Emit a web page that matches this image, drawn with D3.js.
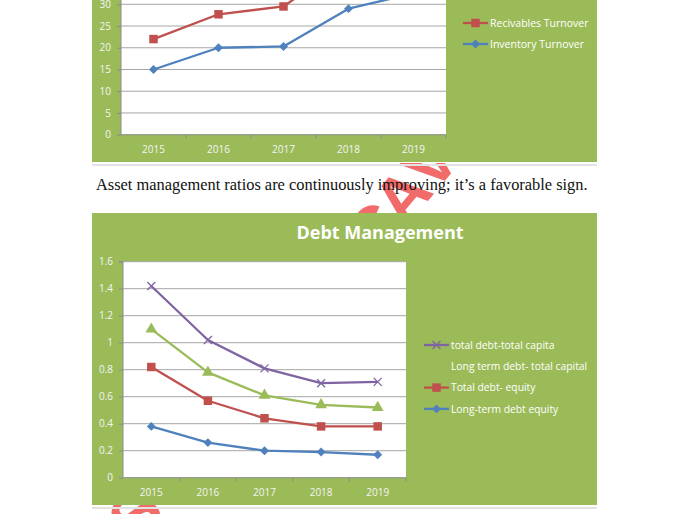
<!DOCTYPE html>
<html>
<head>
<meta charset="utf-8">
<script src="https://cdn.jsdelivr.net/npm/d3@7"></script>
<style>
  body { margin: 0; background: #fff; }
  svg { display: block; }
</style>
</head>
<body>
<svg id="page"></svg>
<script>
// data
const years = ['2015', '2016', '2017', '2018', '2019'];

const recivablesTurnover = [22, 27.7, 29.5, 40, 43];
const inventoryTurnover = [15, 20, 20.3, 29, 32.5];
const turnoverTicks = [0, 5, 10, 15, 20, 25, 30];

const totalDebtCapital = [1.42, 1.02, 0.81, 0.70, 0.71];
const longTermDebtCapital = [1.10, 0.78, 0.61, 0.54, 0.52];
const totalDebtEquity = [0.82, 0.57, 0.44, 0.38, 0.38];
const longTermDebtEquity = [0.38, 0.26, 0.20, 0.19, 0.17];
const debtTicks = [0, 0.2, 0.4, 0.6, 0.8, 1, 1.2, 1.4, 1.6];

const caption = 'Asset management ratios are continuously improving; it\u2019s a favorable sign.';

const W = 700, H = 525;
const green = '#9bbb59';
const font = '"Open Sans", sans-serif';

const svg = d3.select('#page').attr('width', W).attr('height', H);

// watermark, only showing in the white gaps between the chart images
const wmClip = svg.append('clipPath').attr('id', 'wmclip');
wmClip.append('rect').attr('x', 0).attr('y', 163).attr('width', W).attr('height', 50);
wmClip.append('rect').attr('x', 0).attr('y', 505).attr('width', W).attr('height', 9);
const wm = svg.append('g').attr('clip-path', 'url(#wmclip)')
  .append('g').attr('transform', 'translate(402,196) rotate(-50)');
[['C', -44], ['A', 0], ['V', 44], ['S', -415]].forEach(([ch, off]) => {
  wm.append('text')
      .attr('x', off).attr('dy', '0.35em')
      .attr('text-anchor', 'middle')
      .attr('font-family', 'Liberation Sans, sans-serif')
      .attr('font-weight', 'bold')
      .attr('font-size', 66)
      .attr('fill', '#f26b6b')
      .text(ch);
});

function marker(g, type, x, y, color) {
  if (type === 'x') {
    g.append('path')
        .attr('d', `M${x - 4},${y - 4}L${x + 4},${y + 4}M${x - 4},${y + 4}L${x + 4},${y - 4}`)
        .attr('stroke', color).attr('stroke-width', 1.3).attr('fill', 'none');
    return;
  }
  let sym, rot = 0, size;
  if (type === 'square') { sym = d3.symbolSquare; size = 72; }
  if (type === 'diamond') { sym = d3.symbolSquare; size = 40; rot = 45; }
  if (type === 'triangle') { sym = d3.symbolTriangle; size = 60; }
  g.append('path')
      .attr('d', d3.symbol().type(sym).size(size)())
      .attr('transform', `translate(${x},${y}) rotate(${rot})`)
      .attr('fill', color);
}

function drawChart(cfg) {
  const g = svg.append('g');

  // shadow line + green panel
  g.append('rect')
      .attr('x', cfg.panel.x).attr('y', cfg.panel.y + cfg.panel.h + 2)
      .attr('width', cfg.panel.w).attr('height', 2)
      .attr('fill', '#e2e2e2');
  g.append('rect')
      .attr('x', cfg.panel.x).attr('y', cfg.panel.y)
      .attr('width', cfg.panel.w).attr('height', cfg.panel.h)
      .attr('fill', green);

  const x = d3.scaleBand().domain(years).range([cfg.plot.left, cfg.plot.right]);
  const y = d3.scaleLinear().domain([0, cfg.yMax]).range([cfg.plot.zero, cfg.plot.top]);

  g.append('rect')
      .attr('x', cfg.plot.left).attr('y', cfg.plot.top)
      .attr('width', cfg.plot.right - cfg.plot.left)
      .attr('height', cfg.plot.zero - cfg.plot.top)
      .attr('fill', '#fff');

  // gridlines
  g.append('g').selectAll('line')
      .data(cfg.ticks.filter(t => t > 0))
      .join('line')
      .attr('x1', cfg.plot.left).attr('x2', cfg.plot.right)
      .attr('y1', d => y(d)).attr('y2', d => y(d))
      .attr('stroke', '#a6a6a6').attr('stroke-width', 1);

  // y axis
  const yAxis = d3.axisLeft(y).tickValues(cfg.ticks).tickSize(4).tickPadding(6)
      .tickFormat(d => d3.format('~g')(d));
  const yg = g.append('g').attr('transform', `translate(${cfg.plot.left},0)`).call(yAxis);
  yg.select('.domain').attr('stroke', '#8c8c8c').attr('d', `M-4,${cfg.plot.top}H0V${cfg.plot.zero}`);
  yg.selectAll('.tick line').attr('stroke', '#8c8c8c');
  yg.selectAll('.tick text')
      .attr('fill', '#f4f4f4').attr('font-family', font).attr('font-size', 10);

  // x axis: labels centred, ticks on category boundaries
  const xAxis = d3.axisBottom(x).tickSize(0).tickPadding(11);
  const xg = g.append('g').attr('transform', `translate(0,${cfg.plot.zero})`).call(xAxis);
  xg.select('.domain').attr('stroke', '#8c8c8c').attr('d', `M${cfg.plot.left},0H${cfg.plot.right}`);
  xg.selectAll('.tick text')
      .attr('fill', '#f4f4f4').attr('font-family', font).attr('font-size', 10);
  xg.append('g').selectAll('line')
      .data(years.slice(1))
      .join('line')
      .attr('x1', d => x(d)).attr('x2', d => x(d))
      .attr('y1', 0).attr('y2', 4)
      .attr('stroke', '#8c8c8c');
  xg.append('line')
      .attr('x1', cfg.plot.right).attr('x2', cfg.plot.right)
      .attr('y1', 0).attr('y2', 4).attr('stroke', '#8c8c8c');

  const cx = d => x(d) + x.bandwidth() / 2;
  const line = d3.line().x((d, i) => cx(years[i])).y(d => y(d));

  const clip = 'clip' + cfg.id;
  g.append('clipPath').attr('id', clip).append('rect')
      .attr('x', cfg.panel.x).attr('y', cfg.panel.y)
      .attr('width', cfg.panel.w).attr('height', cfg.panel.h);
  const lines = g.append('g').attr('clip-path', `url(#${clip})`);

  cfg.series.forEach(s => {
    lines.append('path')
        .datum(s.values)
        .attr('d', line)
        .attr('fill', 'none')
        .attr('stroke', s.color)
        .attr('stroke-width', 2.3)
        .attr('stroke-linejoin', 'round');
    s.values.forEach((v, i) => marker(lines, s.marker, cx(years[i]), y(v), s.color));
  });

  // legend
  cfg.series.forEach((s, i) => {
    const ly = cfg.legend.y + i * cfg.legend.step;
    const lx = cfg.legend.x;
    g.append('line')
        .attr('x1', lx).attr('x2', lx + 25)
        .attr('y1', ly).attr('y2', ly)
        .attr('stroke', s.color).attr('stroke-width', 2.3);
    marker(g, s.marker, lx + 12.5, ly, s.color);
    g.append('text')
        .attr('x', lx + 27).attr('y', ly)
        .attr('dy', '0.35em')
        .attr('fill', '#fff')
        .attr('font-family', font)
        .attr('font-size', cfg.legend.size)
        .text(s.name);
  });

  if (cfg.title) {
    g.append('text')
        .attr('x', cfg.title.x).attr('y', cfg.title.y)
        .attr('text-anchor', 'middle')
        .attr('fill', '#fff')
        .attr('font-family', font)
        .attr('font-weight', 'bold')
        .attr('font-size', 18)
        .text(cfg.title.text);
  }
}

// top chart, cut off by the top edge of the page
drawChart({
  id: 'turnover',
  panel: { x: 92, y: -120, w: 505, h: 282 },
  plot: { left: 121, right: 446, top: 134.7 - 50 * 4.347, zero: 134.7 },
  yMax: 50,
  ticks: turnoverTicks,
  series: [
    { name: 'Recivables Turnover', values: recivablesTurnover, color: '#c0504d', marker: 'square' },
    { name: 'Inventory Turnover', values: inventoryTurnover, color: '#4f81bd', marker: 'diamond' }
  ],
  legend: { x: 463, y: 23, step: 21, size: 10.5 }
});

svg.append('text')
    .attr('x', 96).attr('y', 190)
    .attr('font-family', '"Liberation Serif", serif')
    .attr('font-size', 16.4)
    .attr('fill', '#111')
    .text(caption);

drawChart({
  id: 'debt',
  panel: { x: 92, y: 213, w: 505, h: 292 },
  plot: { left: 123, right: 406, top: 261.7, zero: 477.7 },
  yMax: 1.6,
  ticks: debtTicks,
  series: [
    { name: 'total debt-total capita', values: totalDebtCapital, color: '#8064a2', marker: 'x' },
    { name: 'Long term debt- total capital', values: longTermDebtCapital, color: '#9bbb59', marker: 'triangle' },
    { name: 'Total debt- equity', values: totalDebtEquity, color: '#c0504d', marker: 'square' },
    { name: 'Long-term debt equity', values: longTermDebtEquity, color: '#4f81bd', marker: 'diamond' }
  ],
  legend: { x: 424, y: 345, step: 21.3, size: 10.3 },
  title: { text: 'Debt Management', x: 380, y: 239 }
});
</script>
</body>
</html>
